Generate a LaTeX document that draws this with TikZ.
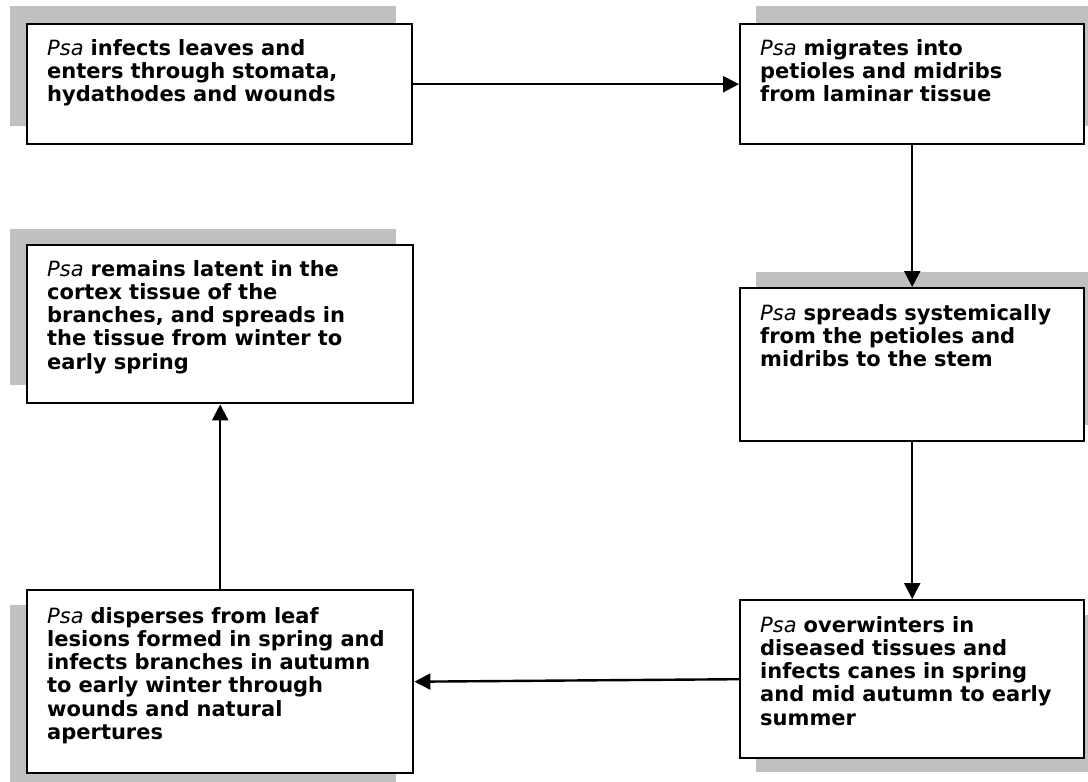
\documentclass[tikz,border=0pt]{standalone}
\usepackage{fontspec}
\setmainfont{DejaVu Sans}
\usetikzlibrary{arrows.meta}
\definecolor{shadowgray}{RGB}{192,192,192}
\newcommand{\psa}{{\mdseries\itshape Psa}}
\tikzset{
  x=1pt, y=-1pt,
  stagebox/.style={draw=black, line width=2.4pt, fill=white, anchor=north west, inner sep=0pt, minimum width=#1},
  stagetext/.style={anchor=base west, inner sep=0pt, text width=380pt, align=left, font=\fontsize{21pt}{23.3pt}\selectfont\bfseries},
  flow/.style={line width=2.4pt, -{Triangle[length=16pt,width=16pt]}}
}
\begin{document}
\begin{tikzpicture}
\useasboundingbox (0,0) rectangle (1088,782);
\clip (0,0) rectangle (1088,782);
\fill[white] (0,0) rectangle (1088,782);
% shadows
\fill[shadowgray] (10,6) rectangle (396,126);
\fill[shadowgray] (756,6) rectangle (1100,126);
\fill[shadowgray] (756,272) rectangle (1100,425);
\fill[shadowgray] (10,229) rectangle (396,385);
\fill[shadowgray] (756,615) rectangle (1100,772);
\fill[shadowgray] (10,605) rectangle (396,790);
% boxes
\node[stagebox=385pt, minimum height=120pt] (b1) at (26,23) {};
\node[stagebox=344pt, minimum height=120pt] (b2) at (739,23) {};
\node[stagebox=344pt, minimum height=153pt] (b3) at (739,287) {};
\node[stagebox=386pt, minimum height=158pt] (b4) at (26,244) {};
\node[stagebox=344pt, minimum height=158pt] (b5) at (739,599) {};
\node[stagebox=386pt, minimum height=183pt] (b6) at (26,589) {};
% texts
\node[stagetext] (t1) at (47,55) {\psa{} infects leaves and\\enters through stomata,\\hydathodes and wounds};
\node[stagetext] (t2) at (760,55) {\psa{} migrates into\\petioles and midribs\\from laminar tissue};
\node[stagetext] (t3) at (760,320) {\psa{} spreads systemically\\from the petioles and\\midribs to the stem};
\node[stagetext] (t4) at (47,276) {\psa{} remains latent in the\\cortex tissue of the\\branches, and spreads in\\the tissue from winter to\\early spring};
\node[stagetext] (t5) at (760,632) {\psa{} overwinters in\\diseased tissues and\\infects canes in spring\\and mid autumn to early\\summer};
\node[stagetext] (t6) at (47,623) {\psa{} disperses from leaf\\lesions formed in spring and\\infects branches in autumn\\to early winter through\\wounds and natural\\apertures};
% arrows
\draw[flow] (b1.east) -- (b2.west);
\draw[flow] (b2.south) -- (b3.north);
\draw[flow] (b3.south) -- (b5.north);
\draw[flow] (b5.west) -- (b6.east);
\draw[flow] (b6.north) -- (b4.south);
\end{tikzpicture}
\end{document}
